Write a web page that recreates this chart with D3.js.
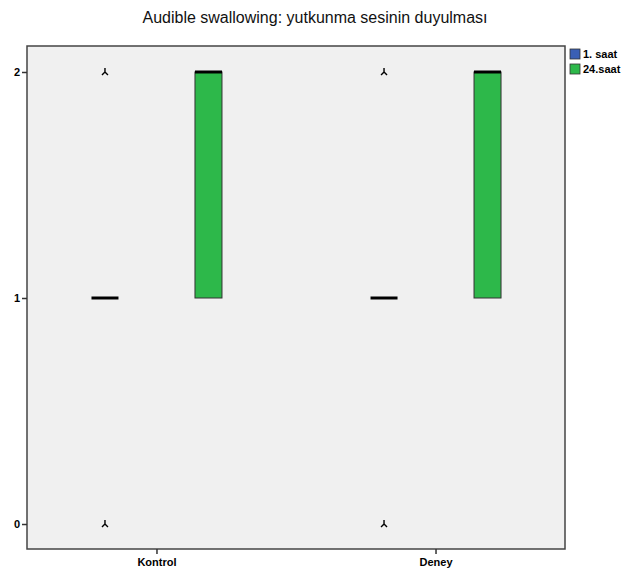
<!DOCTYPE html>
<html><head><meta charset="utf-8">
<script src="https://cdn.jsdelivr.net/npm/d3@7"></script>
<style>body{margin:0;background:#fff}svg{display:block}</style>
</head><body>
<svg id="chart" width="630" height="579"></svg>
<script>
// Groups, series and boxplot summaries (q1, median, q3, whisker ends, outliers)
const groups = ["Kontrol", "Deney"];
const series = ["1. saat", "24.saat"];
const colors = ["#3a5fb5", "#2db84a"];
const yTicks = [0, 1, 2];
const q1 = [[1, 1], [1, 1]];
const median = [[1, 2], [1, 2]];
const q3 = [[1, 2], [1, 2]];
const whiskLow = [[1, 1], [1, 1]];
const whiskHigh = [[1, 2], [1, 2]];
const outliers = [[[0, 2], []], [[0, 2], []]];

const svg = d3.select("#chart");
const L = 27, R = 565, T = 46, B = 549;

const y = d3.scaleLinear().domain([-0.1106, 2.115]).range([B, T]);
const x = d3.scalePoint().domain(groups).range([L, R]).padding(0.464);
const sx = d3.scalePoint().domain(series).range([-51.5, 52]);
const bw = 27;

svg.append("text").attr("x", 315).attr("y", 23).attr("text-anchor", "middle")
  .attr("font-family", "Arial, Liberation Sans, sans-serif").attr("font-size", 16)
  .attr("fill", "#111").text("Audible swallowing: yutkunma sesinin duyulması");

svg.append("rect").attr("x", L).attr("y", T).attr("width", R - L).attr("height", B - T)
  .attr("fill", "#f0f0f0").attr("stroke", "#444").attr("stroke-width", 1.5);

// Axes
const yAxis = svg.append("g").attr("transform", `translate(${L},0)`)
  .call(d3.axisLeft(y).tickValues(yTicks).tickFormat(d3.format("d")).tickSize(5).tickPadding(2));
const xAxis = svg.append("g").attr("transform", `translate(0,${B})`)
  .call(d3.axisBottom(x).tickSize(5).tickPadding(4));
[yAxis, xAxis].forEach(g => {
  g.select(".domain").remove();
  g.selectAll("line").attr("stroke", "#333").attr("stroke-width", 1.5);
  g.selectAll("text").attr("font-family", "Arial, Liberation Sans, sans-serif")
    .attr("font-size", 11).attr("font-weight", "bold").attr("fill", "#000");
});

// Boxes
groups.forEach((grp, gi) => {
  series.forEach((s, si) => {
    const cx = x(grp) + sx(s);
    const g = svg.append("g");
    if (whiskHigh[gi][si] > q3[gi][si])
      g.append("line").attr("x1", cx).attr("x2", cx).attr("y1", y(q3[gi][si])).attr("y2", y(whiskHigh[gi][si])).attr("stroke", "#000");
    if (whiskLow[gi][si] < q1[gi][si])
      g.append("line").attr("x1", cx).attr("x2", cx).attr("y1", y(q1[gi][si])).attr("y2", y(whiskLow[gi][si])).attr("stroke", "#000");
    const h = y(q1[gi][si]) - y(q3[gi][si]);
    if (h > 0)
      g.append("rect").attr("x", cx - bw / 2).attr("y", y(q3[gi][si])).attr("width", bw).attr("height", h)
        .attr("fill", colors[si]).attr("stroke", "#333").attr("stroke-width", 1);
    g.append("line").attr("x1", cx - bw / 2).attr("x2", cx + bw / 2)
      .attr("y1", y(median[gi][si])).attr("y2", y(median[gi][si]))
      .attr("stroke", "#000").attr("stroke-width", 3);
    outliers[gi][si].forEach(v => {
      const py = y(v);
      g.append("path")
        .attr("d", `M${cx},${py - 4}L${cx},${py}M${cx},${py}L${cx - 3},${py + 3}M${cx},${py}L${cx + 3},${py + 3}`)
        .attr("stroke", "#000").attr("stroke-width", 1.4).attr("fill", "none");
    });
  });
});

// Legend
const leg = svg.append("g").attr("transform", "translate(570,49)");
series.forEach((s, i) => {
  leg.append("rect").attr("x", 0).attr("y", i * 15).attr("width", 10).attr("height", 10)
    .attr("fill", colors[i]).attr("stroke", "#333").attr("stroke-width", 0.8);
  leg.append("text").attr("x", 13).attr("y", i * 15 + 9)
    .attr("font-family", "Arial, Liberation Sans, sans-serif").attr("font-size", 11)
    .attr("font-weight", "bold").attr("fill", "#000").text(s);
});
</script>
</body></html>
